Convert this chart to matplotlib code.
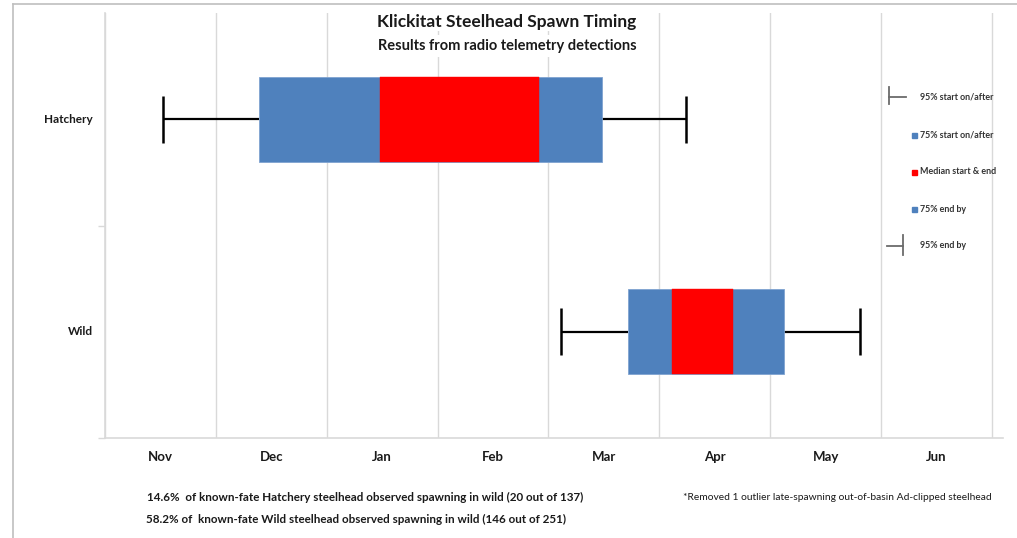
import matplotlib
matplotlib.use("Agg")
import matplotlib.pyplot as plt
from matplotlib.lines import Line2D
from matplotlib.patches import Rectangle
from matplotlib.transforms import blended_transform_factory

plt.rcParams['font.family'] = ['Lato', 'DejaVu Sans']

# ---- data (months since Nov 1) ----
groups = ["Hatchery", "Wild"]
months = ["Nov", "Dec", "Jan", "Feb", "Mar", "Apr", "May", "Jun"]
start95 = [0.526, 4.109]
start75 = [1.389, 4.713]
median_start = [2.480, 5.115]
median_end = [3.913, 5.669]
end75 = [4.479, 6.125]
end95 = [5.239, 6.808]

legend_labels = ["95% start on/after", "75% start on/after", "Median start & end",
                 "75% end by", "95% end by"]
title = "Klickitat Steelhead Spawn Timing"
subtitle = "Results from radio telemetry detections"
note1 = "14.6%  of known-fate Hatchery steelhead observed spawning in wild (20 out of 137)"
note2 = "58.2% of  known-fate Wild steelhead observed spawning in wild (146 out of 251)"
note3 = "*Removed 1 outlier late-spawning out-of-basin Ad-clipped steelhead"

BLUE = "#4F81BD"
RED = "#FF0000"
GRID = "#D9D9D9"
TXT = "#1a1a1a"

W, H = 1017, 538
fig = plt.figure(figsize=(W / 100, H / 100), dpi=100)

def fx(px):
    return px / W

def fy(py):
    return 1 - py / H

ax = fig.add_axes([fx(105), fy(438), fx(1003) - fx(105), fy(13) - fy(438)])
ax.set_xlim(0, 8.1)
ax.set_ylim(1.5, -0.5)
ax.set_axisbelow(True)

ypos = list(range(len(groups)))
box_h = 0.40
cap_h = 0.22

# boxes
ax.barh(ypos, [e - s for s, e in zip(start75, end75)], left=start75, height=box_h,
        color=BLUE, edgecolor="#7FA3D0", linewidth=0.6, zorder=3)
ax.barh(ypos, [e - s for s, e in zip(median_start, median_end)], left=median_start,
        height=box_h, color=RED, edgecolor=RED, linewidth=0.3, zorder=4)
# whiskers
ax.hlines(ypos, start95, start75, color="black", lw=1.6, zorder=2)
ax.hlines(ypos, end75, end95, color="black", lw=1.6, zorder=2)
ax.vlines(start95, [y - cap_h / 2 for y in ypos], [y + cap_h / 2 for y in ypos],
          color="black", lw=1.8, zorder=2)
ax.vlines(end95, [y - cap_h / 2 for y in ypos], [y + cap_h / 2 for y in ypos],
          color="black", lw=1.8, zorder=2)

# grid / spines
ax.set_xticks(range(len(months) + 1))
ax.xaxis.grid(True, color=GRID, lw=1.0)
ax.tick_params(axis="x", length=0, labelbottom=False)
tr = blended_transform_factory(ax.transData, fig.transFigure)
for i, m in enumerate(months):
    ax.text(i + 0.5, fy(457), m, transform=tr, ha="center", va="center",
            fontsize=9.5, fontweight="bold", color=TXT)
ax.set_yticks([0.5, 1.5])
ax.set_yticklabels([])
ax.tick_params(axis="y", length=5, color=GRID, width=1.0)
for s in ["top", "right"]:
    ax.spines[s].set_visible(False)
for s in ["left", "bottom"]:
    ax.spines[s].set_color(GRID)
    ax.spines[s].set_linewidth(1.2)

for y, g in zip(ypos, groups):
    ax.text(-0.11, y, g, ha="right", va="center", fontsize=8.5, fontweight="bold",
            color=TXT)

# title
fig.text(fx(507), fy(22), title, ha="center", va="center", fontsize=12.5,
         fontweight="bold", color=TXT,
         bbox=dict(facecolor="white", edgecolor="none", pad=1))
fig.text(fx(507), fy(46), subtitle, ha="center", va="center", fontsize=10.5,
         fontweight="bold", color=TXT,
         bbox=dict(facecolor="white", edgecolor="none", pad=3))

# legend (manual)
leg_y = [97, 135, 172, 209, 246]
lc = "#6b6b6b"
fig.add_artist(Line2D([fx(889), fx(889)], [fy(87), fy(104)], color=lc, lw=1.3))
fig.add_artist(Line2D([fx(889), fx(906)], [fy(97), fy(97)], color=lc, lw=1.3))
fig.add_artist(Line2D([fx(903), fx(903)], [fy(235), fy(255)], color=lc, lw=1.3))
fig.add_artist(Line2D([fx(887), fx(903)], [fy(246), fy(246)], color=lc, lw=1.3))
for yy, c in zip(leg_y[1:4], [BLUE, RED, BLUE]):
    fig.add_artist(Rectangle((fx(912), fy(yy + 2.5)), fx(5), 5 / H, color=c))
for yy, lab in zip(leg_y, legend_labels):
    fig.text(fx(920), fy(yy), lab, ha="left", va="center", fontsize=6.4,
             fontweight="bold", color="#333333")

# notes
fig.text(fx(147), fy(497), note1, ha="left", va="center", fontsize=8.4,
         fontweight="bold", color=TXT)
fig.text(fx(146), fy(519), note2, ha="left", va="center", fontsize=8.4,
         fontweight="bold", color=TXT)
fig.text(fx(683), fy(497), note3, ha="left", va="center", fontsize=7.4,
         color=TXT)

# outer frame
fig.add_artist(Line2D([fx(13), fx(13)], [0, fy(4)], color="#BFBFBF", lw=1.2))
fig.add_artist(Line2D([fx(13), 1], [fy(4), fy(4)], color="#BFBFBF", lw=1.2))

fig.savefig("out.png", dpi=100)
